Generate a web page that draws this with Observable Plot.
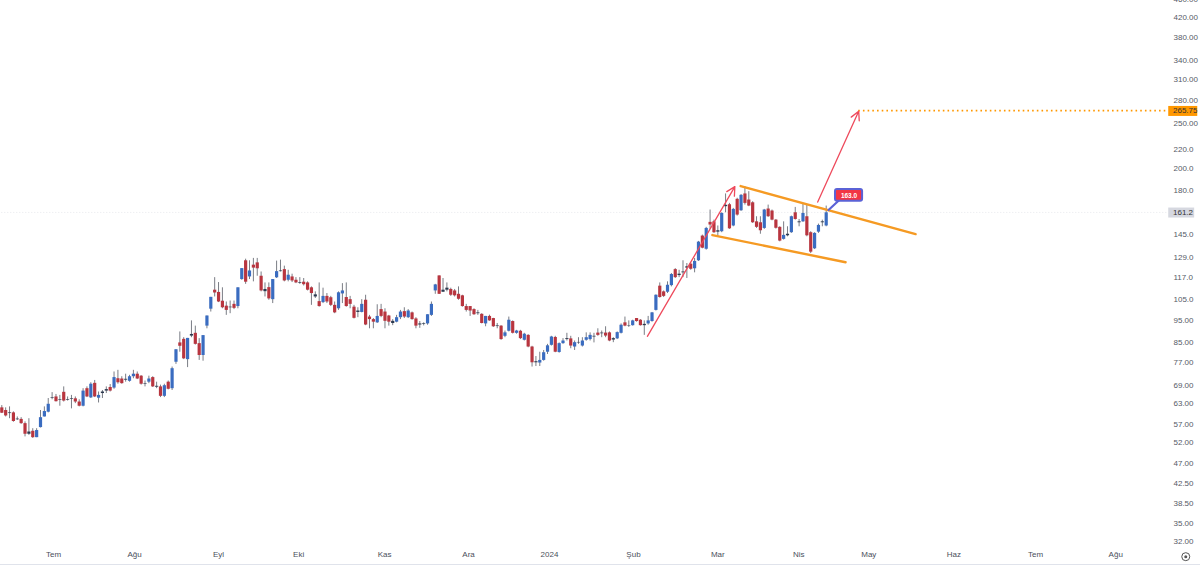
<!DOCTYPE html>
<html>
<head>
<meta charset="utf-8">
<script src="https://cdn.jsdelivr.net/npm/d3@7"></script>
<script src="https://cdn.jsdelivr.net/npm/@observablehq/plot@0.6"></script>
<style>
html,body{margin:0;padding:0;background:#fff;}
#chart{width:1200px;height:564px;border-bottom:1px solid #e0e3eb;overflow:hidden;}
svg{display:block;}
</style>
</head>
<body>
<div id="chart"></div>
<script>
const opens = [61.7,60.9,60.2,60.2,58.4,58.3,57.1,54.2,55.0,53.3,56.0,59.0,60.4,64.9,65.1,64.2,66.6,64.2,64.6,64.5,63.5,62.2,67.8,64.8,69.6,64.7,66.2,67.0,68.2,68.0,71.2,71.1,71.0,70.3,71.9,72.8,72.1,69.5,70.0,71.6,68.6,68.4,65.3,70.0,67.8,
77.2,84.9,86.4,78.2,87.8,89.0,84.6,79.8,92.2,100.2,110.0,108.8,104.2,101.7,101.2,102.6,101.5,115.9,127.1,117.4,124.4,125.8,117.8,110.4,111.4,105.0,116.9,120.9,121.7,115.5,117.4,115.5,114.2,114.4,114.0,111.3,106.4,104.0,103.5,106.7,106.0,102.1,100.4,
108.0,106.1,105.0,101.2,99.3,98.6,104.7,96.4,95.2,93.7,100.0,98.8,96.9,94.4,94.0,96.1,99.0,96.1,98.4,95.5,93.2,93.3,93.2,97.2,109.6,118.0,108.9,111.1,110.4,109.6,107.8,107.0,101.5,101.5,100.0,98.4,97.7,93.2,96.7,95.7,
92.3,92.2,87.7,89.9,94.3,89.0,89.9,86.0,88.1,83.2,77.4,76.9,77.9,81.1,83.9,87.2,81.0,84.6,86.3,86.6,83.2,84.9,83.6,86.0,86.3,87.7,89.1,89.1,89.1,89.2,86.7,86.6,89.0,93.7,92.4,92.4,95.7,94.9,93.0,93.2,94.3,99.6,
112.2,109.1,108.9,112.5,121.7,118.2,119.8,122.6,125.0,122.2,127.1,143.5,134.5,153.5,153.9,147.3,146.6,165.8,167.4,150.8,171.9,162.5,176.5,171.3,169.0,153.9,153.2,149.0,163.9,162.3,155.2,149.8,141.2,143.7,145.9,160.9,153.9,153.9,157.8,145.9,134.8,146.3,153.2,150.8];
const closes = [60.1,59.3,60.0,57.7,58.2,57.1,54.2,54.8,53.3,55.2,58.8,60.6,62.8,64.7,63.6,64.0,63.8,64.0,64.4,63.5,62.2,67.0,65.1,69.3,65.1,65.6,66.7,67.5,67.0,71.6,69.8,69.5,70.7,71.9,72.8,71.1,69.3,69.3,71.1,68.4,68.3,65.3,68.8,67.6,74.8,
82.1,83.5,78.5,86.8,88.5,84.3,79.8,88.0,96.9,106.2,108.5,103.8,100.9,99.6,100.9,100.6,111.3,122.3,114.4,120.9,122.6,122.2,109.6,109.2,105.4,115.9,120.5,120.5,115.1,118.4,115.1,114.0,113.8,113.0,110.0,108.2,107.5,101.5,106.7,103.8,102.1,98.4,108.6,
109.6,101.5,102.6,95.8,98.6,102.6,92.7,95.2,94.0,96.7,96.7,94.4,94.0,93.4,96.1,98.8,96.4,99.3,95.2,92.2,92.7,93.0,97.5,102.6,112.9,107.8,110.0,110.0,107.3,107.0,105.2,101.5,99.6,99.3,97.5,98.0,93.4,96.7,94.6,91.9,
92.0,86.3,89.2,94.9,89.0,90.0,86.7,88.6,83.2,77.0,77.0,77.9,80.9,83.7,87.4,81.1,84.6,85.7,86.7,83.6,85.0,85.1,85.7,87.1,88.1,87.4,88.1,88.8,87.8,85.7,86.1,89.3,92.6,92.2,92.2,94.6,94.3,92.4,92.4,94.6,98.4,107.3,
106.1,106.7,112.7,118.8,117.0,119.0,120.3,123.4,121.9,126.7,139.3,135.2,149.0,151.5,145.9,146.3,160.4,166.9,148.7,163.6,159.1,175.3,168.5,166.3,153.2,149.8,147.3,163.1,157.8,155.2,149.1,140.0,144.0,144.8,157.8,155.7,153.2,160.4,143.7,132.6,145.4,151.2,153.9,160.9];
const highs = [62.4,61.7,62.0,60.5,59.0,58.8,57.6,58.5,55.7,55.7,60.9,62.0,64.6,66.5,65.9,65.6,68.4,65.1,65.6,65.1,64.2,67.8,68.4,69.8,70.6,66.7,67.2,68.4,69.2,73.6,74.2,71.9,72.8,72.4,74.2,73.6,72.3,70.4,72.1,71.9,70.0,69.0,69.3,70.4,75.4,
82.1,89.6,87.1,86.8,94.6,92.2,86.7,88.0,96.9,106.2,117.0,114.2,111.3,103.8,104.3,104.3,111.3,122.3,128.1,127.1,128.6,128.6,120.3,114.0,114.0,115.9,126.9,127.5,123.8,121.3,119.0,117.0,117.0,116.5,114.6,111.8,109.1,114.0,111.1,108.2,106.7,103.8,109.1,
113.6,114.0,106.7,102.1,100.9,105.0,107.3,97.2,95.7,102.4,102.6,100.4,97.2,95.2,97.2,99.6,100.9,100.0,98.8,96.1,94.3,93.7,97.5,103.8,113.2,118.0,116.5,114.0,111.1,110.4,111.8,107.3,102.6,101.5,100.4,99.6,98.0,96.7,97.3,95.8,
93.4,92.4,90.0,96.4,94.6,90.3,90.3,89.0,88.4,83.5,79.4,81.1,81.8,84.3,87.7,87.7,84.9,86.7,89.0,87.7,85.7,87.1,87.1,89.2,89.2,89.0,91.0,90.0,91.9,89.6,87.1,89.6,93.2,96.4,94.6,94.9,95.7,95.2,94.6,96.7,98.6,107.5,
114.0,109.6,114.6,119.4,122.3,121.3,127.1,125.4,125.8,128.6,139.8,144.2,149.8,163.1,155.2,150.8,160.9,176.5,168.5,164.4,172.8,176.0,182.9,178.5,169.9,157.8,157.8,163.6,167.1,163.1,155.7,150.2,153.9,150.2,158.3,165.2,155.7,167.9,167.1,146.6,145.9,152.2,155.2,166.3];
const lows = [60.0,59.0,58.5,57.5,58.0,56.9,53.5,53.9,53.1,53.3,55.9,59.0,60.2,64.2,63.5,62.2,63.5,63.8,61.4,63.0,62.0,62.0,64.9,64.6,64.9,63.2,64.6,66.2,66.7,67.6,69.3,69.3,70.0,70.0,71.2,70.9,69.0,68.4,69.5,68.2,67.8,64.9,64.9,67.4,67.2,
76.4,81.1,78.2,75.2,87.1,84.0,77.9,77.6,91.0,98.8,106.4,103.5,100.4,97.2,98.0,100.0,100.4,115.5,113.2,115.9,114.6,117.8,109.1,106.4,104.7,103.0,116.5,120.3,114.6,114.6,114.2,113.6,113.2,112.3,109.6,102.1,105.6,101.2,103.0,103.0,101.5,98.0,99.6,
103.0,101.2,100.4,95.5,96.1,98.4,92.4,91.0,91.0,93.4,96.1,91.0,92.2,92.4,93.7,95.2,95.7,95.7,94.9,91.0,91.2,92.3,92.6,96.7,107.8,107.7,108.8,109.1,106.7,106.4,104.7,101.2,98.8,96.7,97.2,97.2,93.2,91.9,94.4,91.6,
91.0,86.0,87.1,89.6,88.7,88.6,86.3,85.7,82.9,75.4,75.6,75.6,77.6,80.2,83.6,80.9,80.7,84.3,85.7,82.5,81.8,84.3,83.2,85.6,85.7,84.9,87.7,87.1,87.1,85.4,85.0,86.3,88.7,91.9,91.6,92.2,94.0,92.2,88.1,92.6,94.0,99.3,
105.8,106.1,108.2,111.8,116.5,117.0,117.0,116.5,121.3,119.8,126.7,134.8,133.9,148.3,145.4,143.0,145.9,160.9,148.3,150.2,158.3,162.0,167.1,165.8,152.7,149.0,144.8,148.3,157.3,154.7,148.5,139.5,140.7,143.0,145.4,155.2,150.2,153.5,143.0,131.7,134.3,145.4,150.2,150.2];

const monthPositions = [13.4,34.3,56,76.7,98.9,120.6,141.5,163.2,185,205.9,224,246,267.1,287.8];
const monthLabels = ["Tem","Ağu","Eyl","Eki","Kas","Ara","2024","Şub","Mar","Nis","May","Haz","Tem","Ağu"];
const priceTicks = [460,420,380,340,310,280,250,220,200,180,145,129,117,105,95,85,77,69,63,57,52,47,42.5,38.5,35,32];
const priceLabels = ["460.00","420.00","380.00","340.00","310.00","280.00","250.00","220.0","200.0","180.0","145.0","129.0","117.0","105.0","95.00","85.00","77.00","69.00","63.00","57.00","52.00","47.00","42.50","38.50","35.00","32.00"];

const lastPrice = 161.2;
const targetPrice = 265.75;
const calloutPrice = "163.0";

const upperChannel = [{i:190.9,p:183.5},{i:236.1,p:144.9}];
const lowerChannel = [{i:183.6,p:144.2},{i:218.0,p:126.2}];
const moveArrows = [{i1:166.8,p1:87.7,i2:189.4,p2:183.0},{i1:210.8,p1:169.6,i2:221.4,p2:265.0}];
const calloutStem = [{i:213.6,p:163.1},{i:216.6,p:172}];
const calloutBox = [{i1:215.4,i2:222.4,p1:170.2,p2:180.4}];
const priceTags = [
  {i1:301.5,i2:309,p1:258.3,p2:271.3,f:"#ff9800",t:"265.75",p:targetPrice},
  {i1:301.5,i2:308.2,p1:156.8,p2:164.7,f:"#d6d8e0",t:"161.2",p:lastPrice}
];
const BLUE = "#3a6cc0", RED = "#b8353f", DARK = "#2c3a50";

const bars = d3.range(opens.length).map(i => ({i, o:opens[i], h:highs[i], l:lows[i], c:closes[i]}));
const bodyColor = d => Math.abs(d.o-d.c)/d.c < 0.011 ? DARK : (d.c>=d.o ? BLUE : RED);
const tickLabelOf = new Map(priceTicks.map((t,k)=>[t,priceLabels[k]]));

const chart = Plot.plot({
  width:1200, height:564,
  marginTop:0, marginLeft:0, marginRight:27, marginBottom:19,
  style:{background:"#fff", fontFamily:"'Liberation Sans', Arial, sans-serif", fontSize:"8px", overflow:"hidden"},
  x:{type:"linear", domain:[0,213], range:[1.3,825.7], label:null},
  y:{type:"log", domain:[32,420], range:[541,17], label:null},
  marks:[
    Plot.axisX({ticks:monthPositions, tickFormat:(d)=>monthLabels[monthPositions.indexOf(d)], tickSize:0, tickPadding:6, anchor:"bottom", label:null, fill:"#4a4f5c", fontSize:8}),
    Plot.axisY({ticks:priceTicks, tickFormat:d=>tickLabelOf.get(d), tickSize:0, tickPadding:0, anchor:"right", label:null, fill:"#555a66", fontSize:8}),
    // last-price and target guides
    Plot.ruleY([lastPrice],{x1:0,x2:301.5,stroke:"#e6e7ec",strokeWidth:1,strokeDasharray:"1,2"}),
    Plot.ruleY([targetPrice],{x1:221.4,x2:301.5,stroke:"#ff9800",strokeWidth:1.6,strokeDasharray:"1.6,3.1"}),
    // candles
    Plot.ruleX(bars,{x:"i",y1:"l",y2:"h",stroke:"#7a7d85",strokeWidth:1}),
    Plot.ruleX(bars,{x:"i",y1:d=>Math.max(d.o,d.c),y2:d=>Math.min(d.o,d.c),stroke:bodyColor,strokeWidth:3.2}),
    // drawings
    Plot.line(upperChannel,{x:"i",y:"p",stroke:"#f59a23",strokeWidth:2.4}),
    Plot.line(lowerChannel,{x:"i",y:"p",stroke:"#f59a23",strokeWidth:2.4}),
    Plot.arrow(moveArrows,{x1:"i1",y1:"p1",x2:"i2",y2:"p2",stroke:"#ee4a5c",strokeWidth:1.3,headLength:11,headAngle:55,bend:0}),
    Plot.line(calloutStem,{x:"i",y:"p",stroke:"#5b62d6",strokeWidth:2.2}),
    Plot.rect(calloutBox,{x1:"i1",x2:"i2",y1:"p1",y2:"p2",fill:"#f23645",stroke:"#5b62d6",strokeWidth:2,r:2}),
    Plot.text([calloutPrice],{x:218.9,y:175.2,text:d=>d,fill:"#fff",fontWeight:"bold",fontSize:6.5}),
    // axis price tags
    Plot.rect(priceTags,{x1:"i1",x2:"i2",y1:"p1",y2:"p2",fill:"f"}),
    Plot.text(priceTags,{x:302.6,y:"p",text:"t",textAnchor:"start",fill:"#333",fontSize:8}),
    // settings icon
    Plot.dot([0],{x:305.9,y:29.7,r:4,stroke:"#555",fill:"none",strokeWidth:1}),
    Plot.dot([0],{x:305.9,y:29.7,r:1.5,fill:"#555"})
  ]
});
document.getElementById("chart").appendChild(chart);
</script>
</body>
</html>
